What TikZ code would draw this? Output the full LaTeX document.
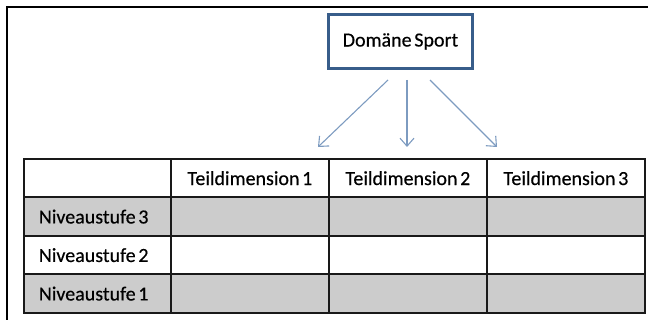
\documentclass[tikz,border=0pt]{standalone}
\usepackage{fontspec}
\setmainfont{Carlito}
\newfontfamily\tabfont[FakeBold=0.4,WordSpace=0.6]{Carlito}
\usetikzlibrary{arrows.meta,positioning}
\definecolor{rahmenblau}{RGB}{56,93,138}
\definecolor{pfeilblau}{RGB}{125,155,192}
\definecolor{zellgrau}{RGB}{204,204,204}
\tikzset{
	every node/.style={
		font=\tabfont\fontsize{20}{24}\selectfont
	},
	domaene/.style={
		shape=rectangle,
		draw=rahmenblau,
		line width=3pt,
		minimum width=144pt,
		minimum height=54pt,
		inner sep=0pt,
		fill=white
	},
	zelle/.style={
		shape=rectangle,
		draw=black!90,
		line width=1.8pt,
		minimum width=158pt,
		minimum height=38.5pt,
		inner sep=0pt,
		anchor=north west
	},
	kopfzelle/.style={
		zelle,
		minimum width=147pt,
		text width=117pt,
		inner xsep=15pt,
		align=flush left
	},
	pfeil/.style={
		draw=pfeilblau,
		line width=1.1pt,
		-{Straight Barb[length=8pt,width=14pt]}
	}
}

\begin{document}
\begin{tikzpicture}[x=1pt,y=-1pt]
	\useasboundingbox (0,0) rectangle (648,320);
	% Rahmen
	\draw[line width=2pt] (7,320) -- (7,7) -- (648,7);

	\node[domaene] (sport) at (400.5,41.5) {Domäne Sport};

	% Kopfzeile
	\node[kopfzelle, fill=white] (leer) at (23,158) {};
	\node[zelle, fill=white] (td1) at (170,158) {Teildimension 1};
	\node[zelle, fill=white] (td2) at (328,158) {Teildimension 2};
	\node[zelle, fill=white] (td3) at (486,158) {Teildimension 3};

	% Niveaustufen
	\foreach \z/\stufe/\fuell in {1/3/zellgrau, 2/2/white, 3/1/zellgrau} {
		\node[kopfzelle, fill=\fuell] (n\stufe) at ({23},{158+38.5*\z}) {Niveaustufe \stufe};
		\foreach \s in {1,2,3}
			\node[zelle, fill=\fuell] (z\stufe\s) at ({170+158*(\s-1)},{158+38.5*\z}) {};
	}

	% Pfeile
	\coordinate (a1) at (388,80);
	\coordinate (a2) at (407,80);
	\coordinate (a3) at (430,80);
	\coordinate (e1) at (318,147);
	\coordinate (e2) at (407,147);
	\coordinate (e3) at (497,147);
	\draw[pfeil] (a1) -- (e1);
	\draw[pfeil] (a2) -- (e2);
	\draw[pfeil] (a3) -- (e3);
\end{tikzpicture}
\end{document}
